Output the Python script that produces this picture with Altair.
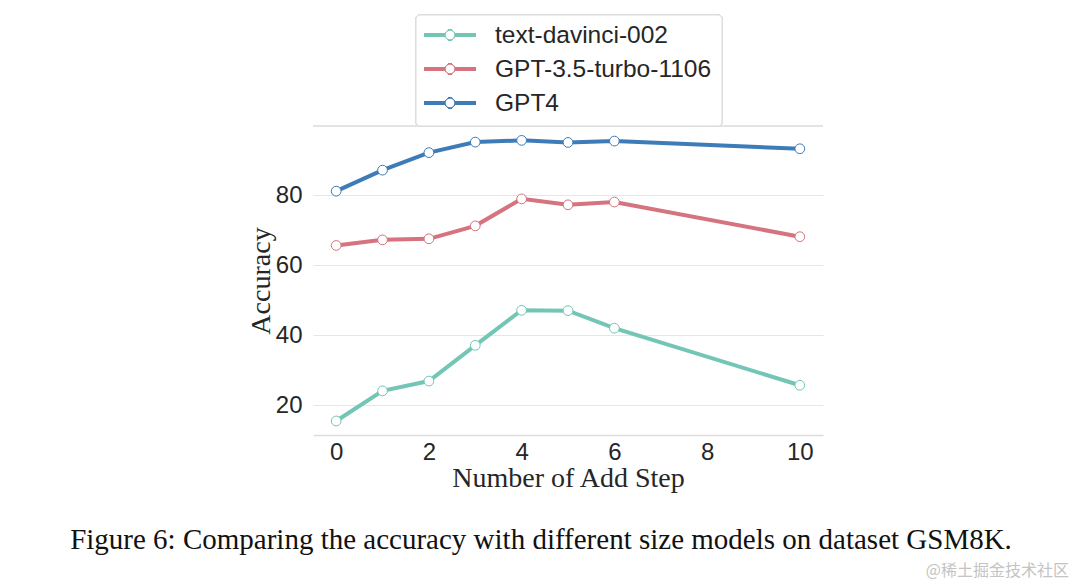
import altair as alt
import pandas as pd

steps = [0, 1, 2, 3, 4, 5, 6, 10]
davinci = [15.5, 24.1, 26.9, 37.1, 47.1, 47.0, 42.0, 25.7]
gpt35 = [65.6, 67.2, 67.5, 71.2, 78.9, 77.2, 78.0, 68.1]
gpt4 = [81.1, 87.1, 92.1, 95.1, 95.6, 95.0, 95.4, 93.2]
models = ["text-davinci-002", "GPT-3.5-turbo-1106", "GPT4"]
colors = ["#73c6b6", "#d5737f", "#3e7cb8"]
y_ticks = [20, 40, 60, 80]
x_ticks = [0, 2, 4, 6, 8, 10]
caption = "Figure 6: Comparing the accuracy with different size models on dataset GSM8K."
watermark = "@稀土掘金技术社区"

rows = []
for m, vals in zip(models, [davinci, gpt35, gpt4]):
    for s, v in zip(steps, vals):
        rows.append({"model": m, "step": s, "acc": v})
df = pd.DataFrame(rows)

W, H = 510, 309
SANS = "Liberation Sans"
SERIF = "Liberation Serif"

xenc = alt.X("step:Q", scale=alt.Scale(domain=[-0.5, 10.5], nice=False, zero=False),
             axis=alt.Axis(values=x_ticks, title="Number of Add Step", grid=False,
                           domain=True, domainColor="#dcdcdc", domainWidth=1.5,
                           ticks=False, labelPadding=5, labelFontSize=24,
                           labelFont=SANS, labelColor="#262626",
                           titleFont=SERIF, titleFontSize=28, titleFontWeight="normal",
                           titleColor="#262626", titlePadding=0))
yenc = alt.Y("acc:Q", scale=alt.Scale(domain=[11.5, 99.7], nice=False, zero=False),
             axis=alt.Axis(values=y_ticks, title="Accuracy", grid=True, gridColor="#e6e6e6",
                           gridWidth=1.2, domain=False, ticks=False, labelPadding=11,
                           labelFontSize=24, labelFont=SANS, labelColor="#262626",
                           titleFont=SERIF, titleFontSize=28, titleFontWeight="normal",
                           titleColor="#262626", titlePadding=0))
cenc = alt.Color("model:N", scale=alt.Scale(domain=models, range=colors), legend=None)

lines = alt.Chart(df).mark_line(strokeWidth=4).encode(x=xenc, y=yenc, color=cenc, detail="model:N")
points = alt.Chart(df).mark_point(filled=True, fill="white", size=95, strokeWidth=1, opacity=1).encode(
    x="step:Q", y="acc:Q", stroke=alt.Stroke("model:N", scale=alt.Scale(domain=models, range=colors), legend=None))

top_line = alt.Chart(df).mark_rule(color="#e3e3e3", strokeWidth=1.2).encode(
    x=alt.value(0), x2=alt.value(W), y=alt.value(0))

# legend box
lx0, lx1, ly0, ly1 = 103, 409, -111, 0
box = alt.Chart(df).mark_rect(fill="white", fillOpacity=0.85, stroke="#dddddd",
                              strokeWidth=1, cornerRadius=4).encode(
    x=alt.value(lx0), x2=alt.value(lx1), y=alt.value(ly0), y2=alt.value(ly1))

legend_layers = []
row_y = [-91, -57, -23]
for m, c, ry in zip(models, colors, row_y):
    legend_layers.append(alt.Chart(df).mark_rule(color=c, strokeWidth=4).encode(
        x=alt.value(111), x2=alt.value(163), y=alt.value(ry)))
    legend_layers.append(alt.Chart(df).mark_point(filled=True, fill="white", stroke=c,
                                                  size=95, strokeWidth=1, opacity=1).encode(
        x=alt.value(137), y=alt.value(ry)))
    legend_layers.append(alt.Chart(pd.DataFrame({"t": [m]})).mark_text(
        align="left", baseline="middle", font=SANS, fontSize=24.5, color="#262626").encode(
        x=alt.value(182), y=alt.value(ry + 1), text="t:N"))

cap = alt.Chart(pd.DataFrame({"t": [caption]})).mark_text(
    align="center", baseline="middle", font=SERIF, fontSize=29, color="#111111").encode(
    x=alt.value(228), y=alt.value(414), text="t:N")
wm = alt.Chart(pd.DataFrame({"t": [watermark]})).mark_text(
    align="right", baseline="middle", font="Noto Sans CJK SC", fontSize=16, color="#c4c4c4").encode(
    x=alt.value(756), y=alt.value(445), text="t:N")

chart = alt.layer(top_line, lines, points, box, *legend_layers, cap, wm).properties(
    width=W, height=H, background="white",
    padding={"left": 305, "top": 118, "right": 249, "bottom": 145},
    autosize=alt.AutoSizeParams(type="none"),
).configure_view(strokeWidth=0, stroke="transparent")

chart.save("out.html", embed_options={"renderer": "svg", "actions": False})
